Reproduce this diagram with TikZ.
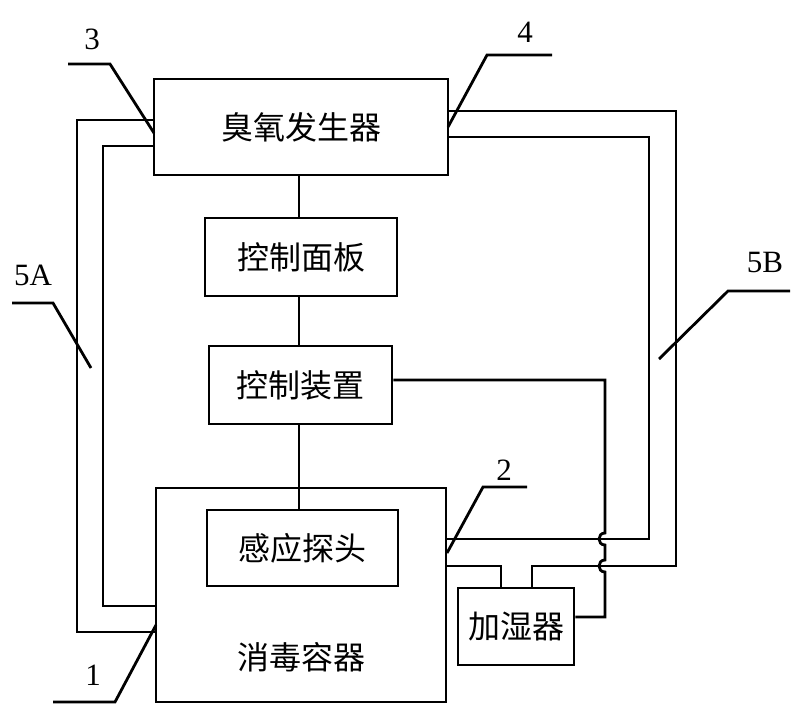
\documentclass[tikz,border=0pt]{standalone}
\usepackage{fontspec}
\setmainfont{Liberation Serif}
\newfontfamily\cjk{Noto Sans CJK SC}
\begin{document}
\begin{tikzpicture}[x=1pt,y=-1pt,line width=2.8pt,line join=miter,
  box/.style={draw,line width=2.8pt,inner sep=0pt,font=\cjk\fontsize{32}{32}\selectfont},
  lbl/.style={inner sep=0pt,font=\fontsize{31}{31}\selectfont},
  cjktext/.style={inner sep=0pt,font=\cjk\fontsize{32}{32}\selectfont}]
\useasboundingbox (0,0) rectangle (800,716);
% boxes
\node[box,minimum width=294pt,minimum height=96pt] (gen) at (301,127) {臭氧发生器};
\node[box,minimum width=192pt,minimum height=78pt] (panel) at (301,257) {控制面板};
\node[box,minimum width=183pt,minimum height=78pt] (ctrl) at (300.5,385) {控制装置};
\node[box,minimum width=290pt,minimum height=214pt] (cont) at (301,595) {};
\node[cjktext] (conttext) at (301,657) {消毒容器};
\node[box,minimum width=191pt,minimum height=76pt] (probe) at (302.5,548) {感应探头};
\node[box,minimum width=116pt,minimum height=77pt] (hum) at (516,626.5) {加湿器};
% centre line
\draw (gen.south -| 299,0) -- (panel.north -| 299,0);
\draw (panel.south -| 299,0) -- (ctrl.north -| 299,0);
\draw (ctrl.south -| 299,0) -- (probe.north -| 299,0);
% left pipe 5A
\draw (gen.west |- 0,120) -| (77,632) -- (cont.west |- 0,632);
\draw (gen.west |- 0,146) -| (103,606) -- (cont.west |- 0,606);
% right pipe 5B
\coordinate (h1) at (hum.north -| 501,0);
\coordinate (h2) at (hum.north -| 532,0);
\draw (gen.east |- 0,137) -| (649,539) -- (cont.east |- 0,539);
\draw (cont.east |- 0,566) -| (h1);
\draw (h2) |- (676,566) |- (gen.east |- 0,111);
% control wire with hops
\draw (ctrl.east |- 0,380) -- (605,380) -- (605,533)
  .. controls (597,533) and (597,545) .. (605,545) -- (605,560)
  .. controls (597,560) and (597,572) .. (605,572) -- (605,617) -- (hum.east |- 0,617);
% leaders and labels
\coordinate (l3) at (154,133);
\draw (l3) -- (110,64) -- (68,64);
\node[lbl] (t3) at (92,39) {3};
\coordinate (l4) at (448,127);
\draw (l4) -- (487,55) -- (552,55);
\node[lbl] (t4) at (525,32) {4};
\coordinate (l2) at (447,553);
\draw (l2) -- (483,487) -- (527,487);
\node[lbl] (t2) at (504,470) {2};
\coordinate (l1) at (156,625);
\draw (l1) -- (115,702) -- (53,702);
\node[lbl] (t1) at (93,675) {1};
\coordinate (l5a) at (91,368);
\draw (l5a) -- (53,303) -- (12,303);
\node[lbl] (t5a) at (33,275) {5A};
\coordinate (l5b) at (659,359);
\draw (l5b) -- (728,291) -- (790,291);
\node[lbl] (t5b) at (765,262) {5B};
\end{tikzpicture}
\end{document}
